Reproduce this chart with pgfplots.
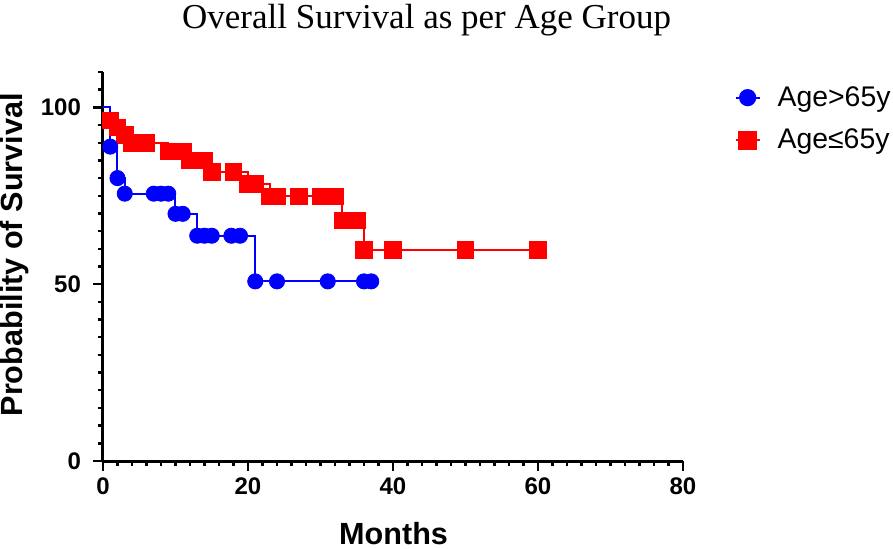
\documentclass[border=0pt]{standalone}
\usepackage{pgfplots}
\pgfplotsset{compat=1.18}
\usepackage{fontspec}
\setmainfont{Liberation Sans}
\newfontfamily\titlefont{Liberation Serif}
\begin{document}
\begin{tikzpicture}
\path[use as bounding box] (0,0) rectangle (446.5pt,274pt);
\begin{axis}[
  at={(51.5pt,43.5pt)}, anchor=south west,
  scale only axis, width=290pt, height=194.5pt,
  xmin=0, xmax=80, ymin=0, ymax=110,
  clip=false,
  axis lines=left,
  axis line style={-, line width=1.5pt, black},
  xtick={0,20,40,60,80},
  ytick={0,50,100},
  minor xtick={2,4,...,78},
  minor ytick={5,10,...,110},
  tick align=outside,
  major tick length=5pt,
  minor tick length=2.5pt,
  every tick/.style={black, line width=1.2pt},
  /pgf/number format/assume math mode=true,
  ticklabel style={font=\bfseries\fontsize{12}{14}\selectfont},
  yticklabel style={xshift=-2.5pt},
  xlabel={Months},
  ylabel={Probability of Survival},
  label style={font=\bfseries\fontsize{15.3}{18}\selectfont},
  xlabel style={at={(axis description cs:0.501,-0.186)}, anchor=center},
  ylabel style={at={(axis description cs:-0.153,0.53)}, anchor=center},
  every axis title shift=0pt,
  title={Overall Survival as per Age Group},
  title style={font=\titlefont\fontsize{17.5}{20}\selectfont, at={(axis description cs:0.558,1.113)}, anchor=base},
  legend style={draw=none, fill=none, at={(axis description cs:1.078,0.879)}, anchor=west,
    font=\fontsize{14.2}{17}\selectfont, row sep=6pt, column sep=6.5pt, cells={anchor=west}},
  legend cell align=left,
  legend image code/.code={\draw[#1, mark repeat=2, mark phase=2] plot coordinates {(0pt,0pt) (6pt,0pt) (12pt,0pt)};},
]
\addlegendimage{blue, line width=1pt, mark=*, mark size=3.8pt, mark options={fill=blue, draw=blue}}
\addlegendentry{Age>65y}
\addlegendimage{red, line width=1pt, mark=square*, mark size=4.1pt, mark options={fill=red, draw=red}}
\addlegendentry{Age≤65y}

% Age <= 65y
\addplot[red, line width=1pt, const plot, forget plot] coordinates {
(0,100) (1,96.4) (2,94.3) (3,92.2) (4,89.9) (9,87.6) (12,85.0) (15,81.8) (20,78.4) (23,74.8) (33,68.1) (36,59.7) (60,59.7)};
\addplot[only marks, mark=square*, mark size=4.1pt, mark options={fill=red, draw=red}, forget plot] coordinates {
(1,96.4) (2,94.3) (3,92.2) (4,89.9) (5,89.9) (6,89.9) (9,87.6) (10,87.6) (11,87.6) (12,85.0) (13,85.0) (14,85.0) (15,81.8) (18,81.8) (20,78.4) (21,78.4) (23,74.8) (24,74.8) (27,74.8) (30,74.8) (31,74.8) (32,74.8) (33,68.1) (34,68.1) (35,68.1) (36,59.7) (40,59.7) (50,59.7) (60,59.7)};

% Age > 65y
\addplot[blue, line width=1pt, const plot, forget plot] coordinates {
(0,100) (1,88.9) (2,80.0) (3,75.6) (10,69.9) (13,63.7) (21,50.8) (37,50.8)};
\addplot[only marks, mark=*, mark size=3.8pt, mark options={fill=blue, draw=blue}, forget plot] coordinates {
(1,88.9) (2,80.0) (3,75.6) (7,75.6) (8,75.6) (9,75.6) (10,69.9) (11,69.9) (13,63.7) (14,63.7) (15,63.7) (17.7,63.7) (18.9,63.7) (21,50.8) (24,50.8) (31,50.8) (36,50.8) (37,50.8)};
\end{axis}
\end{tikzpicture}
\end{document}
